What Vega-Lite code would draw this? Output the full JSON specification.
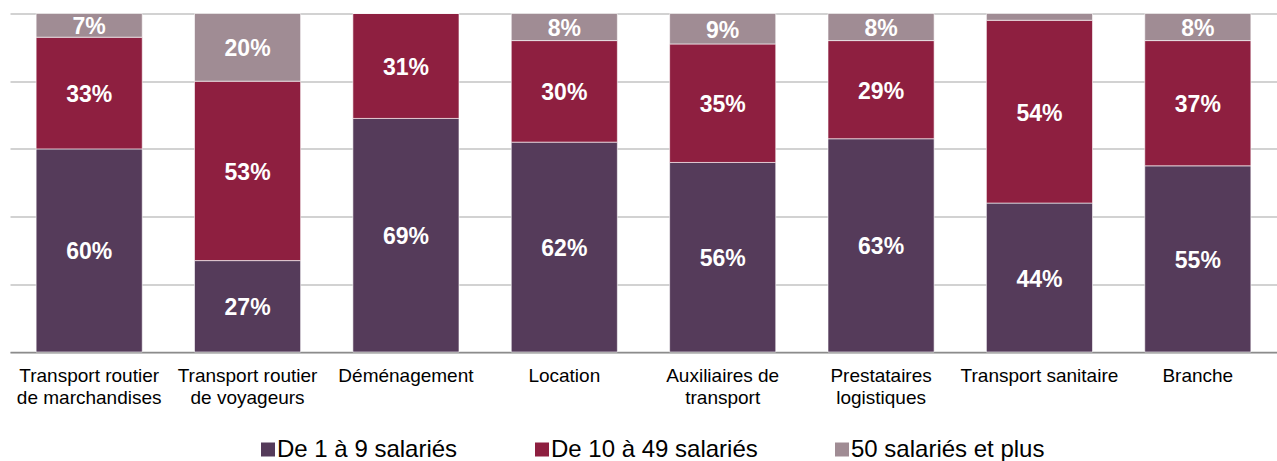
{
  "$schema": "https://vega.github.io/schema/vega-lite/v6.json",
  "width": 1267,
  "height": 338.5,
  "autosize": {"type": "none"},
  "padding": {"left": 10, "top": 13.5, "right": 0, "bottom": 109},
  "background": "white",
  "config": {
    "font": "Liberation Sans",
    "view": {"stroke": null},
    "text": {"font": "Liberation Sans"}
  },
  "data": {
    "values": [
      {"cat": "Transport routier|de marchandises", "size": "De 1 à 9 salariés", "order": 1, "value": 0.60},
      {"cat": "Transport routier|de marchandises", "size": "De 10 à 49 salariés", "order": 2, "value": 0.33},
      {"cat": "Transport routier|de marchandises", "size": "50 salariés et plus", "order": 3, "value": 0.07},
      {"cat": "Transport routier|de voyageurs", "size": "De 1 à 9 salariés", "order": 1, "value": 0.27},
      {"cat": "Transport routier|de voyageurs", "size": "De 10 à 49 salariés", "order": 2, "value": 0.53},
      {"cat": "Transport routier|de voyageurs", "size": "50 salariés et plus", "order": 3, "value": 0.20},
      {"cat": "Déménagement", "size": "De 1 à 9 salariés", "order": 1, "value": 0.69},
      {"cat": "Déménagement", "size": "De 10 à 49 salariés", "order": 2, "value": 0.31},
      {"cat": "Déménagement", "size": "50 salariés et plus", "order": 3, "value": 0.0},
      {"cat": "Location", "size": "De 1 à 9 salariés", "order": 1, "value": 0.62},
      {"cat": "Location", "size": "De 10 à 49 salariés", "order": 2, "value": 0.30},
      {"cat": "Location", "size": "50 salariés et plus", "order": 3, "value": 0.08},
      {"cat": "Auxiliaires de|transport", "size": "De 1 à 9 salariés", "order": 1, "value": 0.56},
      {"cat": "Auxiliaires de|transport", "size": "De 10 à 49 salariés", "order": 2, "value": 0.35},
      {"cat": "Auxiliaires de|transport", "size": "50 salariés et plus", "order": 3, "value": 0.09},
      {"cat": "Prestataires|logistiques", "size": "De 1 à 9 salariés", "order": 1, "value": 0.63},
      {"cat": "Prestataires|logistiques", "size": "De 10 à 49 salariés", "order": 2, "value": 0.29},
      {"cat": "Prestataires|logistiques", "size": "50 salariés et plus", "order": 3, "value": 0.08},
      {"cat": "Transport sanitaire", "size": "De 1 à 9 salariés", "order": 1, "value": 0.44},
      {"cat": "Transport sanitaire", "size": "De 10 à 49 salariés", "order": 2, "value": 0.54},
      {"cat": "Transport sanitaire", "size": "50 salariés et plus", "order": 3, "value": 0.02},
      {"cat": "Branche", "size": "De 1 à 9 salariés", "order": 1, "value": 0.55},
      {"cat": "Branche", "size": "De 10 à 49 salariés", "order": 2, "value": 0.37},
      {"cat": "Branche", "size": "50 salariés et plus", "order": 3, "value": 0.08}
    ]
  },
  "transform": [
    {"stack": "value", "groupby": ["cat"], "sort": [{"field": "order", "order": "ascending"}], "as": ["v0", "v1"]}
  ],
  "encoding": {
    "x": {
      "field": "cat",
      "type": "nominal",
      "sort": null,
      "scale": {"paddingInner": 0.33, "paddingOuter": 0.165},
      "axis": {
        "title": null,
        "labelAngle": 0,
        "labelExpr": "split(datum.label, '|')",
        "labelFontSize": 19,
        "labelLineHeight": 22,
        "labelPadding": 14,
        "labelColor": "#000000",
        "labelLimit": 400,
        "ticks": false,
        "domainColor": "#8c8c8c",
        "domainWidth": 1.5
      }
    }
  },
  "layer": [
    {
      "mark": {"type": "bar", "stroke": "white", "strokeWidth": 0.6},
      "encoding": {
        "y": {
          "field": "v0",
          "type": "quantitative",
          "scale": {"domain": [0, 1], "nice": false, "zero": true},
          "axis": {
            "title": null,
            "labels": false,
            "ticks": false,
            "domain": false,
            "grid": true,
            "values": [0, 0.2, 0.4, 0.6, 0.8, 1],
            "gridColor": "#a6a6a6",
            "gridWidth": 1.2
          }
        },
        "y2": {"field": "v1"},
        "color": {
          "field": "size",
          "type": "nominal",
          "sort": ["De 1 à 9 salariés", "De 10 à 49 salariés", "50 salariés et plus"],
          "scale": {
            "domain": ["De 1 à 9 salariés", "De 10 à 49 salariés", "50 salariés et plus"],
            "range": ["#553b5a", "#8e1f40", "#a08c94"]
          },
          "legend": {
            "title": null,
            "orient": "none",
            "direction": "horizontal",
            "legendX": 246,
            "legendY": 424,
            "symbolType": "square",
            "symbolSize": 196,
            "symbolStrokeWidth": 0,
            "symbolOpacity": 1,
            "labelFontSize": 24,
            "labelColor": "#000000",
            "labelOffset": -3,
            "columnPadding": 72,
            "labelLimit": 400,
            "padding": 0
          }
        }
      }
    },
    {
      "transform": [
        {"filter": "datum.value >= 0.05"},
        {"calculate": "(datum.v0 + datum.v1) / 2", "as": "mid"}
      ],
      "mark": {"type": "text", "color": "white", "fontWeight": "bold", "fontSize": 23, "baseline": "middle", "align": "center", "dy": 2},
      "encoding": {
        "y": {"field": "mid", "type": "quantitative"},
        "text": {"field": "value", "type": "quantitative", "format": ".0%"}
      }
    }
  ]
}
